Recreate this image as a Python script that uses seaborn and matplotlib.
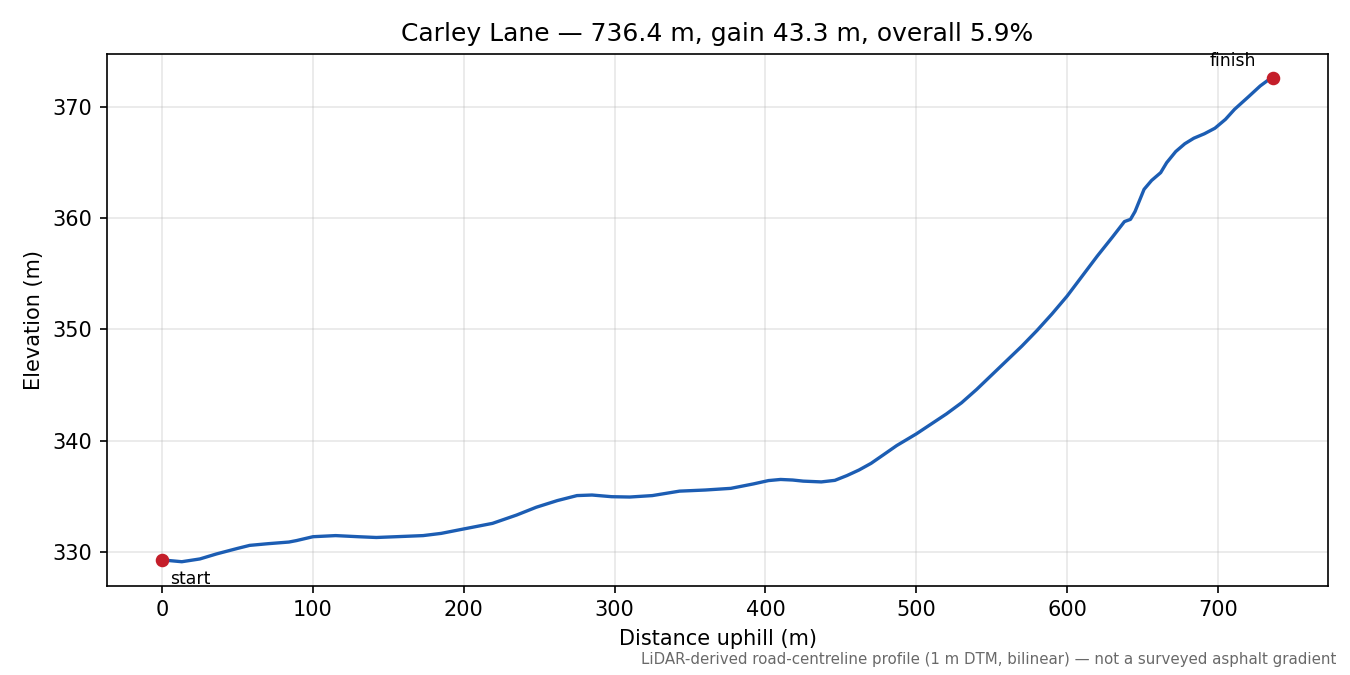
import numpy as np
import pandas as pd
import matplotlib
matplotlib.use("Agg")
import matplotlib.pyplot as plt
import seaborn as sns

# profile (distance uphill in m, elevation in m)
distance = [0, 5, 13, 25, 36, 50, 58, 70, 84, 89, 100, 115, 130, 142, 155, 173, 185,
            200, 219, 235, 248, 262, 275, 285, 298, 310, 325, 343, 360, 377, 392, 402, 410,
            418, 425, 437, 446, 454, 462, 470, 478, 487, 500, 510, 520, 530, 540, 550, 560,
            570, 580, 590, 600, 610, 620, 630, 638, 642, 645, 651, 656, 662, 666, 672, 678,
            684, 691, 698, 705, 711, 720, 728, 733, 736.4]
elevation = [329.28, 329.2, 329.1, 329.35, 329.8, 330.3, 330.57, 330.72, 330.87, 331.0,
             331.35, 331.45, 331.35, 331.28, 331.35, 331.45, 331.65, 332.05, 332.55,
             333.3, 334.0, 334.6, 335.05, 335.1, 334.95, 334.92, 335.05, 335.45, 335.55,
             335.7, 336.1, 336.4, 336.5, 336.45, 336.35, 336.28, 336.42, 336.85, 337.35,
             337.95, 338.7, 339.55, 340.6, 341.5, 342.4, 343.4, 344.6, 345.9, 347.2, 348.5,
             349.9, 351.4, 353.0, 354.8, 356.6, 358.3, 359.7, 359.9, 360.6, 362.6, 363.4,
             364.1, 365.0, 366.0, 366.7, 367.2, 367.6, 368.1, 368.9, 369.8, 370.9, 371.9,
             372.4, 372.6]

road_name = "Carley Lane"
length_m = 736.4
gain_m = 43.3
overall_pct = 5.9
note = "LiDAR-derived road-centreline profile (1 m DTM, bilinear) \u2014 not a surveyed asphalt gradient"

df = pd.DataFrame({"distance": distance, "elevation": elevation})

fig, ax = plt.subplots(figsize=(9, 4.5), dpi=150)
fig.subplots_adjust(left=0.079, right=0.984, top=0.92, bottom=0.132)

sns.lineplot(data=df, x="distance", y="elevation", sort=False, color="#1c5db3",
             linewidth=1.6, ax=ax)

# end points
ends = df.iloc[[0, -1]]
ax.plot(ends["distance"], ends["elevation"], "o", color="#c41e2a", markersize=5.5, zorder=5)
ax.annotate("start", (ends["distance"].iloc[0], ends["elevation"].iloc[0]),
            xytext=(4, -5), textcoords="offset points", ha="left", va="top", fontsize=8.3)
ax.annotate("finish", (ends["distance"].iloc[1], ends["elevation"].iloc[1]),
            xytext=(-8, 4), textcoords="offset points", ha="right", va="bottom", fontsize=8.3)

ax.grid(True, alpha=0.3)
ax.set_xlabel("Distance uphill (m)")
ax.set_ylabel("Elevation (m)")
ax.set_title(f"{road_name} \u2014 {length_m} m, gain {gain_m} m, overall {overall_pct}%")

fig.text(0.99, 0.012, note, ha="right", va="bottom", fontsize=7.2, color="dimgray")

fig.savefig("out.png", dpi=150)
